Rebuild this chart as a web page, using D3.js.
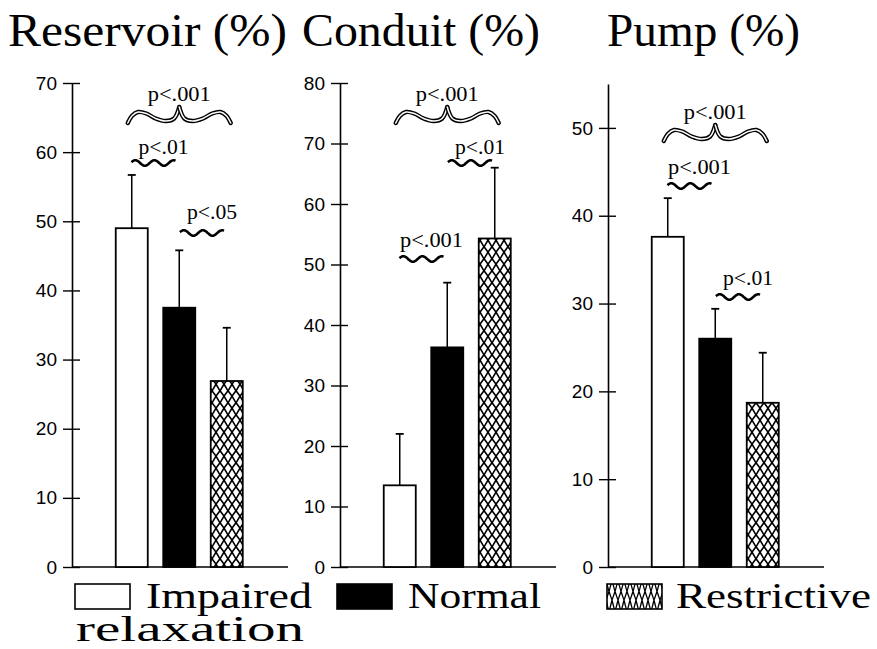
<!DOCTYPE html>
<html><head><meta charset="utf-8">
<script src="https://cdn.jsdelivr.net/npm/d3@7"></script>
<style>body{margin:0;background:#fff}svg{display:block}</style>
</head><body>
<svg id="c" width="877" height="649"></svg>
<script>
// ---- data ----
const panelTitles = ["Reservoir (%)", "Conduit (%)", "Pump (%)"];
const groups = ["Impaired relaxation", "Normal", "Restrictive"];
const reservoirMean = [49.0, 37.5, 26.9];
const reservoirErr  = [7.7, 8.3, 7.7];
const conduitMean   = [13.5, 36.3, 54.3];
const conduitErr    = [8.5, 10.7, 11.7];
const pumpMean      = [37.6, 26.0, 18.7];
const pumpErr       = [4.4, 3.4, 5.7];
const reservoirTicks = [0, 10, 20, 30, 40, 50, 60, 70];
const conduitTicks   = [0, 10, 20, 30, 40, 50, 60, 70, 80];
const pumpTicks      = [0, 10, 20, 30, 40, 50];
const reservoirMax = 70, conduitMax = 80, pumpMax = 55;
// comparisons: [group a, group b, label, style]
const reservoirComp = [[0, 2, "p<.001", "brace"], [0, 1, "p<.01", "wave"], [1, 2, "p<.05", "wave"]];
const conduitComp   = [[0, 2, "p<.001", "brace"], [1, 2, "p<.01", "wave"], [0, 1, "p<.001", "wave"]];
const pumpComp      = [[0, 2, "p<.001", "brace"], [0, 1, "p<.001", "wave"], [1, 2, "p<.01", "wave"]];

// ---- layout ----
const svg = d3.select("#c");
const defs = svg.append("defs");
function makePattern(id, w, h, sw) {
  const pat = defs.append("pattern").attr("id", id).attr("patternUnits", "userSpaceOnUse")
    .attr("width", w).attr("height", h);
  pat.append("rect").attr("width", w).attr("height", h).attr("fill", "#fff");
  pat.append("path")
    .attr("d", `M0,0 Q${w*0.35},${h*0.5} ${w},${h} M${w},0 Q${w*0.65},${h*0.5} 0,${h}`)
    .attr("stroke", "#000").attr("stroke-width", sw).attr("fill", "none");
}
makePattern("hatch", 8, 12, 1.6);
makePattern("hatchL", 6, 20, 1.3);
const fills = ["#fff", "#000", "url(#hatch)"];
const legendFills = ["#fff", "#000", "url(#hatchL)"];

const panels = [
  {title: panelTitles[0], mean: reservoirMean, err: reservoirErr, ticks: reservoirTicks, max: reservoirMax, comp: reservoirComp,
   ax: 72, top: 83, titleX: 8, titleW: 279, annY: [101, 154, 219], lineY: [115, 163, 233]},
  {title: panelTitles[1], mean: conduitMean, err: conduitErr, ticks: conduitTicks, max: conduitMax, comp: conduitComp,
   ax: 340, top: 83, titleX: 302, titleW: 238, annY: [101, 154, 247], lineY: [115, 163, 259]},
  {title: panelTitles[2], mean: pumpMean, err: pumpErr, ticks: pumpTicks, max: pumpMax, comp: pumpComp,
   ax: 608, top: 84, titleX: 607, titleW: 193, annY: [119, 174, 285], lineY: [133, 186, 297]}
];
const baseY = 567;
const serif = "'Liberation Serif', 'DejaVu Serif', serif";

function wavePath(x0, x1, y) {
  const pts = [];
  const n = 60, w = x1 - x0, periods = 2.3;
  for (let i = 0; i <= n; i++) {
    const t = i / n;
    pts.push([x0 + t * w, y - 2.8 * Math.sin(t * periods * 2 * Math.PI + Math.PI * 0.1)]);
  }
  return d3.line().curve(d3.curveBasis)(pts);
}
function bracePaths(x0, x1, y) {
  const w = x1 - x0;
  const half = [[0, 8], [0.04, 1], [0.1, -3], [0.18, -1.5], [0.27, 3.5], [0.37, 6], [0.45, 3.5], [0.5, -8]];
  const left = half.map(([t, d]) => [x0 + t * w, y + d]);
  const right = half.map(([t, d]) => [x1 - t * w, y + d]);
  const line = d3.line().curve(d3.curveCatmullRom.alpha(0.5));
  return [line(left), line(right)];
}

panels.forEach(p => {
  const g = svg.append("g");
  const y = d3.scaleLinear().domain([0, p.max]).range([baseY, p.top]);
  const x = d3.scaleBand().domain(groups).range([p.ax + 36, p.ax + 36 + 142.5]).paddingInner(0.326).paddingOuter(0.163);

  // title
  svg.append("text").attr("x", p.titleX).attr("y", 46).text(p.title)
    .attr("font-family", serif).attr("font-size", 46)
    .attr("textLength", p.titleW).attr("lengthAdjust", "spacingAndGlyphs");

  // y axis
  const axis = d3.axisLeft(y).tickValues(p.ticks).tickSize(9).tickSizeOuter(0).tickPadding(6).tickFormat(d3.format("d"));
  const ag = g.append("g").attr("transform", `translate(${p.ax},0)`).call(axis);
  ag.select(".domain").attr("stroke-width", 1.6);
  ag.selectAll(".tick line").attr("stroke-width", 1.4).attr("x2", 8).attr("x1", -9);
  ag.selectAll(".tick text").attr("font-family", "'Liberation Sans', Arial, sans-serif").attr("font-size", 19).attr("fill", "#000");
  // x baseline
  g.append("line").attr("x1", p.ax).attr("x2", p.ax + 216).attr("y1", baseY).attr("y2", baseY)
    .attr("stroke", "#000").attr("stroke-width", 1.6);

  // error bars
  groups.forEach((gname, i) => {
    const cx = x(gname) + x.bandwidth() / 2;
    const yt = y(p.mean[i] + p.err[i]);
    g.append("line").attr("x1", cx).attr("x2", cx).attr("y1", y(p.mean[i])).attr("y2", yt).attr("stroke", "#000").attr("stroke-width", 1.5);
    g.append("line").attr("x1", cx - 4).attr("x2", cx + 4).attr("y1", yt).attr("y2", yt).attr("stroke", "#000").attr("stroke-width", 1.8);
  });
  // bars
  g.selectAll("rect.bar").data(groups).enter().append("rect").attr("class", "bar")
    .attr("x", d => x(d)).attr("width", x.bandwidth())
    .attr("y", (d, i) => y(p.mean[i])).attr("height", (d, i) => baseY - y(p.mean[i]))
    .attr("fill", (d, i) => fills[i]).attr("stroke", "#000").attr("stroke-width", 1.8);

  // comparisons
  p.comp.forEach(([a, b, label, style], k) => {
    const ca = x(groups[a]) + x.bandwidth() / 2, cb = x(groups[b]) + x.bandwidth() / 2;
    let x0, x1;
    if (style === "brace") { x0 = ca - 4; x1 = cb + 4; }
    else { x0 = (ca + cb) / 2 - 23 + (a === 0 && b === 1 ? -1 : 0); x1 = x0 + 44; }
    const mid = (x0 + x1) / 2;
    const tx = style === "brace" ? mid : x0 + 32;
    g.append("text").attr("x", tx).attr("y", p.annY[k]).attr("text-anchor", "middle").text(label)
      .attr("font-family", serif).attr("font-size", 20)
      .attr("textLength", label.length === 6 ? 63 : 50).attr("lengthAdjust", "spacingAndGlyphs");
    if (style === "brace") {
      bracePaths(x0, x1, p.lineY[k]).forEach(d => {
        g.append("path").attr("d", d).attr("fill", "none").attr("stroke", "#000").attr("stroke-width", 4.4).attr("stroke-linecap", "round");
        g.append("path").attr("d", d).attr("fill", "none").attr("stroke", "#fff").attr("stroke-width", 1.5).attr("stroke-linecap", "round");
      });
    } else {
      g.append("path").attr("d", wavePath(x0, x1, p.lineY[k])).attr("fill", "none")
        .attr("stroke", "#000").attr("stroke-width", 2.6);
    }
  });
});

// legend
const legend = [
  {x: 75, w: 55, tx: 146, tw: 166, lines: ["Impaired", "relaxation"]},
  {x: 337, w: 55, tx: 408, tw: 133, lines: ["Normal"]},
  {x: 607, w: 55, tx: 676, tw: 195, lines: ["Restrictive"]}
];
legend.forEach((l, i) => {
  svg.append("rect").attr("x", l.x).attr("y", 584).attr("width", l.w).attr("height", 25)
    .attr("fill", legendFills[i]).attr("stroke", "#000").attr("stroke-width", 1.6);
  svg.append("text").attr("x", l.tx).attr("y", 608).text(l.lines[0])
    .attr("font-family", serif).attr("font-size", 35)
    .attr("textLength", l.tw).attr("lengthAdjust", "spacingAndGlyphs");
  if (l.lines[1]) {
    svg.append("text").attr("x", 76).attr("y", 641).text(l.lines[1])
      .attr("font-family", serif).attr("font-size", 35)
      .attr("textLength", 228).attr("lengthAdjust", "spacingAndGlyphs");
  }
});
</script>
</body></html>
